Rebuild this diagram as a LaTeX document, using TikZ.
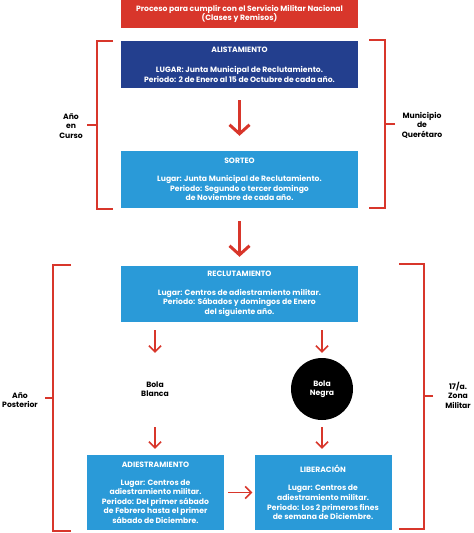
\documentclass[tikz,border=0pt]{standalone}
\usepackage{fontspec}
\setmainfont{Poppins}[BoldFont={Poppins Bold}]
\usetikzlibrary{arrows.meta}
\definecolor{rojo}{HTML}{D8362B}
\definecolor{azulo}{HTML}{233F8E}
\definecolor{azulc}{HTML}{2A9AD8}
\tikzset{
  txt/.style={font=\fontsize{7.7}{9.6}\selectfont\bfseries, align=center, inner sep=0pt},
  boxw/.style={txt, text=white, minimum width=237bp, inner sep=0pt},
  boxs/.style={txt, text=white, minimum width=137bp, minimum height=75bp, inner sep=0pt},
  lbl/.style={txt, text=black},
  bigarrow/.style={draw=rojo, line width=3bp, -{Straight Barb[length=9bp, width=20bp, line width=3bp]}},
  smallarrow/.style={draw=rojo, line width=1.5bp, -{Straight Barb[length=6bp, width=12bp, line width=1.5bp]}},
  brk/.style={draw=rojo, line width=2.5bp},
}
\begin{document}
\begin{tikzpicture}[x=1bp,y=-1bp]
\useasboundingbox (0,0) rectangle (474,533);
% title
\node[boxw, fill=rojo, minimum height=28bp] (title) at (239.5,14) {Proceso para cumplir con el Servicio Militar Nacional\\(Clases y Remisos)};
\node[boxw, fill=azulo, minimum height=47bp] (alist) at (239.5,64.5) {ALISTAMIENTO\\[10.5bp]LUGAR: Junta Municipal de Reclutamiento.\\Periodo: 2 de Enero al 15 de Octubre de cada año.};
\node[boxw, fill=azulc, minimum height=57bp] (sorteo) at (239.5,179.5) {SORTEO\\[8.5bp]Lugar: Junta Municipal de Reclutamiento.\\Periodo: Segundo o tercer domingo\\de Noviembre de cada año.};
\node[boxw, fill=azulc, minimum height=56bp] (reclut) at (239.5,294) {RECLUTAMIENTO\\[9bp]Lugar: Centros de adiestramiento militar.\\Periodo: Sábados y domingos de Enero\\del siguiente año.};
\node[lbl, circle, minimum size=62bp] (blanca) at (155,389) {Bola\\Blanca};
\node[lbl, circle, fill=black, text=white, minimum size=62bp] (negra) at (322,389) {Bola\\Negra};
\node[boxs, fill=azulc] (adiest) at (155.5,492.5) {ADIESTRAMIENTO\\[8.5bp]Lugar: Centros de\\adiestramiento militar.\\Periodo: Del primer sábado\\de Febrero hasta el primer\\sábado de Diciembre.};
\node[boxs, fill=azulc] (liber) at (323,492.5) {LIBERACIÓN\\[8.5bp]Lugar: Centros de\\adiestramiento militar.\\Periodo: Los 2 primeros fines\\de semana de Diciembre.};
% arrows
\draw[bigarrow, shorten <=12bp, shorten >=15bp] (alist) -- (sorteo);
\draw[bigarrow, shorten <=13bp, shorten >=9bp] (sorteo) -- (reclut);
\draw[smallarrow, shorten <=8bp, shorten >=5bp] (reclut.south -| blanca.north) -- (blanca.north);
\draw[smallarrow, shorten <=8bp, shorten >=5bp] (reclut.south -| negra.north) -- (negra.north);
\draw[smallarrow, shorten <=7bp, shorten >=6bp] (blanca.south) -- (adiest.north -| blanca.south);
\draw[smallarrow, shorten <=7bp, shorten >=6bp] (negra.south) -- (liber.north -| negra.south);
\draw[smallarrow, shorten <=4bp, shorten >=2bp] (adiest.east) -- (liber.west);
% brackets
\coordinate (lt1) at (113,41); \coordinate (lt2) at (113,209);
\coordinate (rt1) at (369,40); \coordinate (rt2) at (369,208);
\coordinate (lb1) at (71,265); \coordinate (lb2) at (71,531);
\coordinate (rb1) at (399,264); \coordinate (rb2) at (399,529);
\draw[brk] (lt1) -| (97,125) |- (lt2);
\draw[brk] (87,125) -- (97,125);
\draw[brk] (rt1) -| (385,124) |- (rt2);
\draw[brk] (395,124) -- (385,124);
\draw[brk] (lb1) -| (53,398) |- (lb2);
\draw[brk] (45,398) -- (53,398);
\draw[brk] (rb1) -| (424,396) |- (rb2);
\draw[brk] (433,396) -- (424,396);
\node[lbl] (curso) at (71,126) {Año\\en\\Curso};
\node[lbl] (quer) at (422,125) {Municipio\\de\\Querétaro};
\node[lbl] (poster) at (20,400) {Año\\Posterior};
\node[lbl] (zona) at (458,395) {17/a.\\Zona\\Militar};
\end{tikzpicture}
\end{document}
